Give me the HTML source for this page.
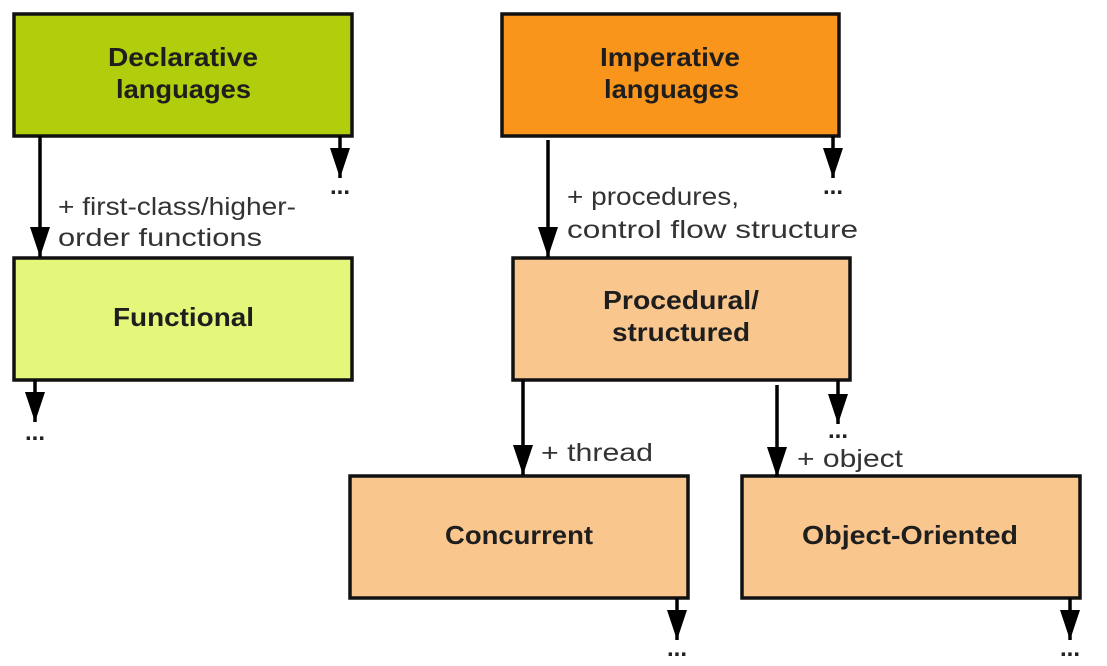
<!DOCTYPE html>
<html><head><style>
body{margin:0;background:#fff;width:1107px;height:661px;overflow:hidden}
</style></head><body>
<svg width="1107" height="661" xmlns="http://www.w3.org/2000/svg" font-family="Liberation Sans, DejaVu Sans, sans-serif">
<defs>
<marker id="b" markerWidth="20" markerHeight="30" refX="10" refY="30" markerUnits="userSpaceOnUse" viewBox="0 0 20 30"><path d="M0,0 L20,0 L10,30 Z" fill="#000"/></marker></defs>
<g stroke="#111" stroke-width="3.5">
<rect x="14" y="14" width="338" height="122" fill="#b1cd0c"/>
<rect x="14" y="258" width="338" height="122" fill="#e5f77a"/>
<rect x="502" y="14" width="337" height="122" fill="#fa951c"/>
<rect x="513" y="258" width="337" height="122" fill="#f9c68e"/>
<rect x="350" y="476" width="338" height="122" fill="#f9c68e"/>
<rect x="742" y="476" width="338" height="122" fill="#f9c68e"/>
</g>
<g stroke="#000" stroke-width="3.5" fill="none">
<line x1="40" y1="136" x2="40" y2="257" marker-end="url(#b)"/>
<line x1="340" y1="136" x2="340" y2="178" marker-end="url(#b)"/>
<line x1="548" y1="140" x2="548" y2="257" marker-end="url(#b)"/>
<line x1="833" y1="136" x2="833" y2="178" marker-end="url(#b)"/>
<line x1="35" y1="380" x2="35" y2="422" marker-end="url(#b)"/>
<line x1="523" y1="380" x2="523" y2="475" marker-end="url(#b)"/>
<line x1="777" y1="385" x2="777" y2="477" marker-end="url(#b)"/>
<line x1="838" y1="380" x2="838" y2="424" marker-end="url(#b)"/>
<line x1="677" y1="598" x2="677" y2="640" marker-end="url(#b)"/>
<line x1="1070" y1="598" x2="1070" y2="640" marker-end="url(#b)"/>
</g>
<g font-size="24" font-weight="bold" fill="#222" text-anchor="middle">
<text x="340" y="194">...</text>
<text x="833" y="194">...</text>
<text x="35" y="440">...</text>
<text x="838" y="438">...</text>
<text x="677" y="656">...</text>
<text x="1070" y="656">...</text>
</g>
<g font-size="26" font-weight="bold" fill="#1e1e1e">
<text x="108" y="66" textLength="150" lengthAdjust="spacingAndGlyphs">Declarative</text>
<text x="116" y="98" textLength="135" lengthAdjust="spacingAndGlyphs">languages</text>
<text x="113" y="326" textLength="141" lengthAdjust="spacingAndGlyphs">Functional</text>
<text x="600" y="66" textLength="140" lengthAdjust="spacingAndGlyphs">Imperative</text>
<text x="604" y="98" textLength="135" lengthAdjust="spacingAndGlyphs">languages</text>
<text x="603" y="309" textLength="156" lengthAdjust="spacingAndGlyphs">Procedural/</text>
<text x="612" y="341" textLength="138" lengthAdjust="spacingAndGlyphs">structured</text>
<text x="445" y="544" textLength="148" lengthAdjust="spacingAndGlyphs">Concurrent</text>
<text x="802" y="544" textLength="216" lengthAdjust="spacingAndGlyphs">Object-Oriented</text>
</g>
<g font-size="25" fill="#333">
<text x="58" y="215" textLength="238" lengthAdjust="spacingAndGlyphs">+ first-class/higher-</text>
<text x="58" y="246" textLength="204" lengthAdjust="spacingAndGlyphs">order functions</text>
<text x="567" y="205" textLength="172" lengthAdjust="spacingAndGlyphs">+ procedures,</text>
<text x="567" y="238" textLength="291" lengthAdjust="spacingAndGlyphs">control flow structure</text>
<text x="541" y="461" textLength="112" lengthAdjust="spacingAndGlyphs">+ thread</text>
<text x="797" y="467" textLength="106" lengthAdjust="spacingAndGlyphs">+ object</text>
</g>
</svg>
</body></html>
